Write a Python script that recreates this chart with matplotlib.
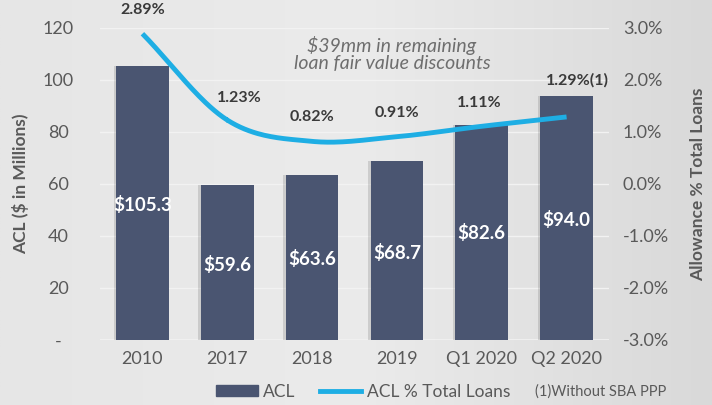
import numpy as np
import matplotlib
matplotlib.use("Agg")
import matplotlib.pyplot as plt
from matplotlib.patches import Rectangle
from matplotlib.lines import Line2D

categories = ["2010", "2017", "2018", "2019", "Q1 2020", "Q2 2020"]
acl = [105.3, 59.6, 63.6, 68.7, 82.6, 94.0]
acl_pct = [2.89, 1.23, 0.82, 0.91, 1.11, 1.29]
bar_labels = ["$105.3", "$59.6", "$63.6", "$68.7", "$82.6", "$94.0"]
pct_labels = ["2.89%", "1.23%", "0.82%", "0.91%", "1.11%", "1.29%(1)"]
left_ticks = [0, 20, 40, 60, 80, 100, 120]
left_tick_labels = ["-", "20", "40", "60", "80", "100", "120"]
right_ticks = [-3, -2, -1, 0, 1, 2, 3]
right_tick_labels = ["-3.0%", "-2.0%", "-1.0%", "0.0%", "1.0%", "2.0%", "3.0%"]

FONT = "Lato"
plt.rcParams["font.family"] = [FONT, "DejaVu Sans"]

BAR = "#4a5571"
LINE = "#1eaee4"
TXT = "#595959"

fig = plt.figure(figsize=(7.12, 4.05), dpi=100)
bg = fig.add_axes([0, 0, 1, 1], zorder=-10)
grad = np.linspace(0, 1, 256)
g = np.outer(np.ones(256), grad)
bg.imshow(g, aspect="auto", cmap=matplotlib.colors.LinearSegmentedColormap.from_list(
    "bg", ["#e6e6e6", "#ebebeb", "#d9d9d9"]), extent=[0, 1, 0, 1])
bg.axis("off")

ax = fig.add_axes([100/712, 65/405, 509/712, 312/405])
ax.patch.set_alpha(0)
x = np.arange(len(categories))
ax.set_xlim(-0.5, len(categories) - 0.5)
ax.set_ylim(0, 120)

ax.bar(x - 0.03, acl, width=0.62, color="#000000", alpha=0.12, zorder=1)
ax.bar(x, acl, width=0.62, color=BAR, zorder=2)

ax.set_yticks(left_ticks)
ax.set_yticklabels(left_tick_labels, fontsize=13, color=TXT)
ax.set_xticks(x)
ax.set_xticklabels(categories, fontsize=13, color=TXT)
ax.tick_params(axis="both", length=0, pad=8)
ax.tick_params(axis="y", pad=30)
for t in ax.get_yticklabels():
    t.set_horizontalalignment("center")
ax.grid(axis="y", color="#f2f2f2", linewidth=1, zorder=0)
ax.set_axisbelow(True)
for s in ax.spines.values():
    s.set_visible(False)
ax.axhline(0, color="#f2f2f2", lw=1.2, zorder=0)

label_y = [52, 29, 31, 33.5, 41, 46]
for xi, lab, ly in zip(x, bar_labels, label_y):
    ax.text(xi, ly, lab, ha="center", va="center", color="white",
            fontsize=13.5, fontweight="bold", zorder=5)

ax.set_ylabel("ACL ($ in Millions)", fontsize=12.5, fontweight="bold", color=TXT)
ax.yaxis.set_label_coords(-0.14, 0.5)

ax2 = ax.twinx()
ax2.set_ylim(-3, 3)
ax2.set_yticks(right_ticks)
ax2.set_yticklabels(right_tick_labels, fontsize=13, color=TXT)
ax2.tick_params(axis="y", length=0, pad=10)
for s in ax2.spines.values():
    s.set_visible(False)
ax2.set_ylabel("Allowance % Total Loans", fontsize=12.5, fontweight="bold", color=TXT)
ax2.yaxis.set_label_coords(1.16, 0.5)

# smoothed rendering (Catmull-Rom) through the six data points
px = np.array(x, dtype=float)
py = np.array(acl_pct, dtype=float)
P = np.column_stack([px, py])
Pe = np.vstack([P[0] - (P[1] - P[0]), P, P[-1] + (P[-1] - P[-2])])
curve = []
for i in range(1, len(Pe) - 2):
    p0, p1, p2, p3 = Pe[i-1], Pe[i], Pe[i+1], Pe[i+2]
    t = np.linspace(0, 1, 40)[:, None]
    c = 0.5 * ((2*p1) + (-p0 + p2)*t + (2*p0 - 5*p1 + 4*p2 - p3)*t**2 + (-p0 + 3*p1 - 3*p2 + p3)*t**3)
    curve.append(c)
curve = np.vstack(curve)
ax2.plot(curve[:, 0], curve[:, 1], color=LINE, lw=3.5, solid_capstyle="butt", zorder=6)

pct_pos = [(0, 3.35), (0.14, 1.65), (0, 1.28), (0, 1.36), (-0.03, 1.55), (0.13, 1.99)]
for (dx, yy), lab, xi in zip(pct_pos, pct_labels, x):
    ax2.text(xi + dx, yy, lab, ha="center", va="center", fontsize=11.5,
             fontweight="bold", color="#3a3a3a", zorder=7)

ax2.text(2.94, 2.5, "$39mm in remaining\nloan fair value discounts", ha="center", va="center",
         fontsize=14, style="italic", color="#6e6e6e", linespacing=1.05, zorder=7)

handles = [Rectangle((0, 0), 1, 1, color=BAR),
           Line2D([0], [0], color=LINE, lw=3.5)]
labels = ["ACL", "ACL % Total Loans"]
leg = fig.legend(handles, labels, loc="center", bbox_to_anchor=(0.51, 0.032), ncol=2,
                 frameon=False, fontsize=12.5, handlelength=2.4, handletextpad=0.3,
                 columnspacing=1.4, handleheight=0.6)
for t in leg.get_texts():
    t.set_color(TXT)
fig.text(535/712, 0.032, "(1)Without SBA PPP", ha="left", va="center",
         fontsize=10.5, color=TXT)

fig.savefig("out.png", dpi=100)
